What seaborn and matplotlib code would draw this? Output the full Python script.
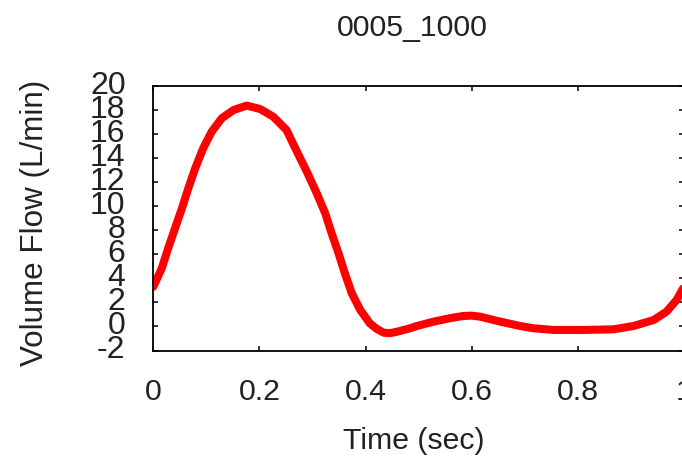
import matplotlib
matplotlib.use("Agg")
import matplotlib.pyplot as plt
import matplotlib.transforms as mtransforms
import seaborn as sns
import pandas as pd

# ---- data ----
time_sec = [0.000, 0.016, 0.028, 0.041, 0.054, 0.066, 0.079, 0.094, 0.110, 0.129,
            0.151, 0.176, 0.201, 0.226, 0.251, 0.270, 0.289, 0.308, 0.324, 0.336,
            0.349, 0.361, 0.374, 0.390, 0.408, 0.421, 0.434, 0.446, 0.459, 0.480,
            0.497, 0.528, 0.560, 0.584, 0.600, 0.616, 0.654, 0.690, 0.716, 0.754,
            0.811, 0.867, 0.905, 0.943, 0.967, 0.986, 1.000]
volume_flow = [3.30, 4.84, 6.50, 8.17, 9.83, 11.49, 13.16, 14.82, 16.20, 17.32,
               18.00, 18.37, 18.09, 17.45, 16.34, 14.60, 12.90, 11.08, 9.41, 7.75,
               6.09, 4.42, 2.76, 1.37, 0.26, -0.20, -0.52, -0.56, -0.44, -0.20,
               0.04, 0.40, 0.70, 0.87, 0.90, 0.81, 0.40, 0.05, -0.15, -0.29,
               -0.29, -0.24, 0.04, 0.54, 1.23, 2.20, 3.30]
x_ticks = [0, 0.2, 0.4, 0.6, 0.8, 1.0]
x_tick_labels = ["0", "0.2", "0.4", "0.6", "0.8", "1"]
y_ticks = [-2, 0, 2, 4, 6, 8, 10, 12, 14, 16, 18, 20]
y_tick_labels = ["-2", "0", "2", "4", "6", "8", "10", "12", "14", "16", "18", "20"]
title_text = "0005_1000"
x_label = "Time (sec)"
y_label = "Volume Flow (L/min)"

df = pd.DataFrame({"time": time_sec, "flow": volume_flow})

sns.set_style("ticks")
plt.rcParams["font.family"] = ["Liberation Sans", "DejaVu Sans"]

W, H = 682, 459
fig = plt.figure(figsize=(W / 100, H / 100), dpi=100)
left, right, top, bottom = 153.3, 684.0, 86.0, 350.5
ax = fig.add_axes([left / W, (H - bottom) / H, (right - left) / W, (bottom - top) / H])

sns.lineplot(data=df, x="time", y="flow", ax=ax, color="#ff0000",
             linewidth=5.8, sort=False, estimator=None)

ax.set_xlim(0, 1)
ax.set_ylim(-2, 20)
ax.set_xticks(x_ticks)
ax.set_xticklabels(x_tick_labels)
ax.set_yticks(y_ticks)
ax.set_yticklabels(y_tick_labels)

for s in ax.spines.values():
    s.set_visible(True)
    s.set_linewidth(1.3)
    s.set_color("black")

ax.tick_params(axis="both", which="major", direction="in", length=3.6, width=1.1,
               color="black", labelsize=21.8, labelcolor="#222222",
               top=True, right=True)
ax.tick_params(axis="x", pad=19.8)
ax.tick_params(axis="y", pad=20.0)

offset = mtransforms.ScaledTranslation(0, 3.5 / 100, fig.dpi_scale_trans)
for lab in ax.get_yticklabels():
    lab.set_family(["Liberation Sans Narrow", "Liberation Sans"])
    lab.set_fontsize(23)
    lab.set_transform(lab.get_transform() + offset)

ax.set_xlabel(x_label, fontsize=21.8, color="#222222", va="baseline")
ax.xaxis.set_label_coords(0.4916, -0.3735)
ax.set_ylabel(y_label, fontsize=22.6, color="#222222", va="baseline")
ax.yaxis.set_label_coords(-0.2084, 0.484)
ax.set_title(title_text, fontsize=21.8, color="#222222", x=0.4875, y=1.190,
             va="baseline", pad=0)

fig.savefig("out.png", dpi=100)
